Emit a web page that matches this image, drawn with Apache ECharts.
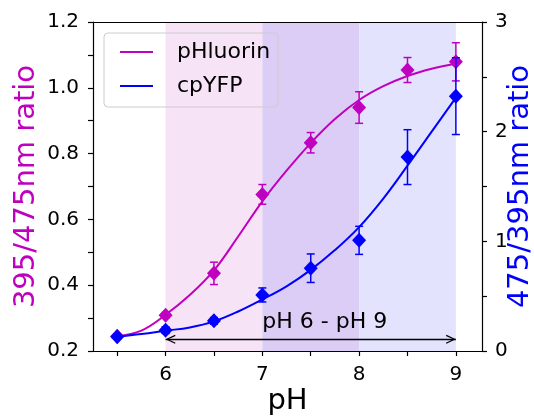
<!DOCTYPE html>
<html><head><meta charset="utf-8">
<script src="https://cdn.jsdelivr.net/npm/echarts@6/dist/echarts.min.js"></script>
<style>html,body{margin:0;padding:0;background:#fff}#c{width:534px;height:417px}</style>
</head><body><div id="c"></div>
<script>
// ---- data ----
const phValues      = [5.5, 6.0, 6.5, 7.0, 7.5, 8.0, 8.5, 9.0];
const pHluorinRatio = [0.245, 0.309, 0.436, 0.676, 0.833, 0.940, 1.054, 1.079];
const pHluorinErr   = [0.005, 0.008, 0.034, 0.030, 0.031, 0.048, 0.038, 0.058];
const cpYFPRatio    = [0.13, 0.19, 0.275, 0.511, 0.755, 1.009, 1.768, 2.324];
const cpYFPErr      = [0.02, 0.03, 0.03, 0.064, 0.13, 0.128, 0.25, 0.35];

const fitPH         = [5.5, 5.75, 6.0, 6.25, 6.5, 6.75, 7.0, 7.25, 7.5, 7.75, 8.0, 8.25, 8.5, 8.75, 9.0];
const pHluorinFit   = [0.245, 0.262, 0.31, 0.37, 0.445, 0.548, 0.655, 0.748, 0.832, 0.905, 0.963, 1.005, 1.036, 1.058, 1.074];
const cpYFPFit      = [0.13, 0.155, 0.185, 0.215, 0.27, 0.36, 0.47, 0.59, 0.74, 0.92, 1.13, 1.39, 1.69, 2.0, 2.31];

const bandRanges    = [[6, 7], [7, 8], [8, 9]];
const arrowRange    = [6, 9];
const arrowLevel    = 0.2356;
const arrowText     = 'pH 6 - pH 9';
const textAnchor    = [7.0, 0.254];

const xTickValues   = [5.5, 6, 6.5, 7, 7.5, 8, 8.5, 9];
const xTickLabels   = [6, 7, 8, 9];
const leftTickValues  = [0.2, 0.3, 0.4, 0.5, 0.6, 0.7, 0.8, 0.9, 1.0, 1.1, 1.2];
const leftTickLabels  = [0.2, 0.4, 0.6, 0.8, 1.0, 1.2];
const rightTickValues = [0, 0.5, 1, 1.5, 2, 2.5, 3];
const rightTickLabels = [0, 1, 2, 3];

// ---- style ----
const FONT = 'DejaVu Sans';
const MAG = '#bf00bf', BLUE = '#0000ff';
const bandColors = ['#f6e3f6', '#dccdf6', '#e3e3fd'];

function errorBarRender(color) {
  return function (params, api) {
    const x = api.value(0), y = api.value(1), e = api.value(2);
    const top = api.coord([x, y + e]), bot = api.coord([x, y - e]);
    const w = 4;
    const style = { stroke: color, lineWidth: 1.5 };
    return { type: 'group', children: [
      { type: 'line', shape: { x1: top[0], y1: top[1], x2: bot[0], y2: bot[1] }, style },
      { type: 'line', shape: { x1: top[0] - w, y1: top[1], x2: top[0] + w, y2: top[1] }, style },
      { type: 'line', shape: { x1: bot[0] - w, y1: bot[1], x2: bot[0] + w, y2: bot[1] }, style }
    ]};
  };
}

const chevron = 'path://M4.5,10 L9,19.3 L7.9,19.9 L4.5,12.6 L1.1,19.9 L0,19.3 Z M4.5,0 L4.52,0 L4.5,0.02 Z';

const axisLineStyle = { show: true, lineStyle: { color: '#000', width: 1.2 } };
const tickStyle = { show: true, length: 5, lineStyle: { color: '#000', width: 1.2 } };

const chart = echarts.init(document.getElementById('c'), null, { renderer: 'canvas' });
chart.setOption({
  animation: false,
  backgroundColor: '#fff',
  grid: { left: 93, right: 52, top: 22, bottom: 66, containLabel: false, outerBoundsMode: 'none' },
  legend: {
    data: [{ name: 'pHluorin', icon: 'rect' }, { name: 'cpYFP', icon: 'rect' }],
    orient: 'vertical', left: 104, top: 33,
    itemWidth: 33, itemHeight: 2, itemGap: 12,
    padding: [8, 8, 10, 16],
    borderColor: '#cccccc', borderWidth: 1, borderRadius: 4,
    backgroundColor: 'rgba(255,255,255,0)',
    selectedMode: false,
    textStyle: { fontSize: 22, fontFamily: FONT, color: '#000', padding: [0, 0, 0, 19], lineHeight: 22 }
  },
  xAxis: [{
    type: 'value', position: 'bottom', min: 5.25, max: 9.27, z: 10,
    axisLine: axisLineStyle,
    axisTick: Object.assign({}, tickStyle, { customValues: xTickValues }),
    axisLabel: { customValues: xTickLabels, margin: 14, fontSize: 20, fontFamily: FONT, color: '#000' },
    splitLine: { show: false },
    name: 'pH', nameLocation: 'middle', nameGap: 36, nameMoveOverlap: false,
    nameTextStyle: { fontSize: 29, fontFamily: FONT, color: '#000' }
  }, {
    type: 'value', position: 'top', min: 5.25, max: 9.27, z: 10,
    axisLine: axisLineStyle, axisTick: { show: false }, axisLabel: { show: false }, splitLine: { show: false }
  }],
  yAxis: [{
    type: 'value', position: 'left', min: 0.2, max: 1.2, z: 10,
    axisLine: axisLineStyle,
    axisTick: Object.assign({}, tickStyle, { customValues: leftTickValues }),
    axisLabel: { customValues: leftTickLabels, margin: 14, fontSize: 20, fontFamily: FONT, color: '#000',
                 formatter: v => Number(v).toFixed(1) },
    splitLine: { show: false },
    name: '395/475nm ratio', nameLocation: 'middle', nameGap: 52, nameMoveOverlap: false,
    nameTextStyle: { fontSize: 29, fontFamily: FONT, color: MAG }
  }, {
    type: 'value', position: 'right', min: 0, max: 3, z: 10,
    axisLine: axisLineStyle,
    axisTick: Object.assign({}, tickStyle, { customValues: rightTickValues }),
    axisLabel: { customValues: rightTickLabels, margin: 13, fontSize: 20, fontFamily: FONT, color: '#000' },
    splitLine: { show: false },
    name: '475/395nm ratio', nameLocation: 'middle', nameGap: 24, nameMoveOverlap: false,
    nameTextStyle: { fontSize: 29, fontFamily: FONT, color: BLUE }
  }],
  series: [
    {
      name: 'bands', type: 'line', data: [], silent: true, z: 1,
      markArea: {
        silent: true,
        data: bandRanges.map((r, i) => [
          { xAxis: r[0], itemStyle: { color: bandColors[i], opacity: 1 } },
          { xAxis: r[1] }
        ])
      }
    },
    {
      name: 'pHluorin', type: 'line', xAxisIndex: 0, yAxisIndex: 0,
      data: fitPH.map((p, i) => [p, pHluorinFit[i]]),
      smooth: 0.4, showSymbol: false, symbol: 'none',
      lineStyle: { color: MAG, width: 2 }, itemStyle: { color: MAG }, z: 3
    },
    {
      name: 'pHluorin err', type: 'custom', xAxisIndex: 0, yAxisIndex: 0,
      data: phValues.map((p, i) => [p, pHluorinRatio[i], pHluorinErr[i]]),
      encode: { x: 0, y: 1 }, renderItem: errorBarRender(MAG), z: 3
    },
    {
      name: 'pHluorin pts', type: 'scatter', xAxisIndex: 0, yAxisIndex: 0,
      data: phValues.map((p, i) => [p, pHluorinRatio[i]]),
      symbol: 'diamond', symbolSize: [14, 15], itemStyle: { color: MAG, opacity: 1 }, z: 3
    },
    {
      name: 'cpYFP', type: 'line', xAxisIndex: 0, yAxisIndex: 1,
      data: fitPH.map((p, i) => [p, cpYFPFit[i]]),
      smooth: 0.4, showSymbol: false, symbol: 'none',
      lineStyle: { color: BLUE, width: 2 }, itemStyle: { color: BLUE }, z: 4
    },
    {
      name: 'cpYFP err', type: 'custom', xAxisIndex: 0, yAxisIndex: 1,
      data: phValues.map((p, i) => [p, cpYFPRatio[i], cpYFPErr[i]]),
      encode: { x: 0, y: 1 }, renderItem: errorBarRender(BLUE), z: 4
    },
    {
      name: 'cpYFP pts', type: 'scatter', xAxisIndex: 0, yAxisIndex: 1,
      data: phValues.map((p, i) => [p, cpYFPRatio[i]]),
      symbol: 'diamond', symbolSize: [14, 15], itemStyle: { color: BLUE, opacity: 1 }, z: 4
    },
    {
      name: 'annot', type: 'line', data: [], silent: true, z: 5,
      markLine: {
        silent: true, animation: false,
        symbol: [chevron, chevron], symbolSize: [9, 20],
        label: { show: false },
        lineStyle: { color: '#000', width: 1.3, type: 'solid' },
        data: [[{ coord: [arrowRange[0], arrowLevel] }, { coord: [arrowRange[1], arrowLevel] }]]
      },
      markPoint: {
        silent: true, symbol: 'circle', symbolSize: 0,
        label: { show: true, position: 'inside', formatter: arrowText, align: 'left', verticalAlign: 'bottom',
                 fontSize: 22, fontFamily: FONT, color: '#000' },
        data: [{ coord: textAnchor }]
      }
    }
  ]
});
</script>
</body></html>
